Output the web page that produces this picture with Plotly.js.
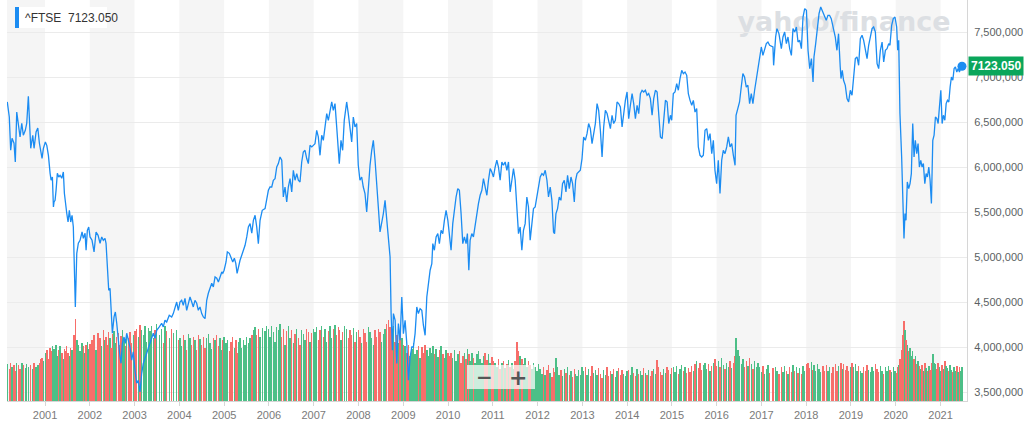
<!DOCTYPE html>
<html><head><meta charset="utf-8">
<script src="https://cdn.plot.ly/plotly-3.0.1.min.js"></script>
<style>html,body{margin:0;padding:0;background:#fff;}#chart{width:1024px;height:422px;}</style>
</head><body><div id="chart"></div>
<script>
const tickerName = '^FTSE';
// decimal years of each sample
const tradeYears = [
2000.158,2000.203,2000.234,2000.264,2000.308,2000.337,2000.369,2000.405,2000.443,2000.481,
2000.516,2000.560,2000.592,2000.628,2000.681,2000.726,2000.755,2000.800,2000.838,2000.874,
2000.904,2000.933,2000.963,2001.007,2001.039,2001.075,2001.113,2001.135,2001.164,2001.187,
2001.201,2001.224,2001.246,2001.275,2001.306,2001.336,2001.374,2001.409,2001.432,2001.463,
2001.485,2001.514,2001.543,2001.574,2001.603,2001.632,2001.648,2001.677,2001.709,2001.744,
2001.782,2001.827,2001.856,2001.894,2001.917,2001.945,2001.976,2002.005,2002.050,2002.095,
2002.140,2002.185,2002.229,2002.267,2002.302,2002.340,2002.363,2002.401,2002.423,2002.452,
2002.475,2002.504,2002.542,2002.571,2002.602,2002.637,2002.675,2002.698,2002.727,2002.765,
2002.794,2002.825,2002.861,2002.898,2002.936,2002.972,2003.010,2003.048,2003.084,2003.122,
2003.160,2003.196,2003.234,2003.272,2003.307,2003.345,2003.383,2003.419,2003.457,2003.495,
2003.553,2003.606,2003.642,2003.680,2003.718,2003.776,2003.830,2003.866,2003.942,2003.978,
2004.015,2004.053,2004.089,2004.127,2004.165,2004.201,2004.239,2004.277,2004.312,2004.350,
2004.388,2004.424,2004.462,2004.500,2004.536,2004.574,2004.611,2004.647,2004.685,2004.723,
2004.759,2004.797,2004.835,2004.871,2004.909,2004.947,2004.970,2004.999,2005.042,2005.071,
2005.116,2005.148,2005.192,2005.228,2005.260,2005.289,2005.317,2005.355,2005.393,2005.429,
2005.467,2005.505,2005.541,2005.579,2005.617,2005.653,2005.691,2005.728,2005.764,2005.802,
2005.851,2005.914,2005.952,2005.988,2006.025,2006.063,2006.099,2006.137,2006.175,2006.211,
2006.249,2006.287,2006.322,2006.360,2006.398,2006.434,2006.472,2006.510,2006.546,2006.584,
2006.622,2006.658,2006.695,2006.733,2006.769,2006.807,2006.845,2006.881,2006.919,2006.957,
2006.993,2007.030,2007.068,2007.104,2007.142,2007.180,2007.216,2007.254,2007.292,2007.328,
2007.366,2007.404,2007.439,2007.477,2007.515,2007.551,2007.573,2007.611,2007.648,2007.684,
2007.738,2007.774,2007.812,2007.850,2007.886,2007.924,2007.962,2007.997,2008.035,2008.073,
2008.109,2008.147,2008.185,2008.221,2008.259,2008.297,2008.333,2008.371,2008.409,2008.444,
2008.482,2008.520,2008.556,2008.594,2008.632,2008.668,2008.706,2008.729,2008.758,2008.780,
2008.819,2008.856,2008.891,2008.929,2008.967,2009.003,2009.041,2009.079,2009.115,2009.153,
2009.191,2009.226,2009.264,2009.302,2009.338,2009.376,2009.414,2009.450,2009.488,2009.526,
2009.562,2009.600,2009.638,2009.660,2009.695,2009.734,2009.772,2009.807,2009.845,2009.883,
2009.919,2009.957,2009.996,2010.030,2010.068,2010.106,2010.142,2010.180,2010.218,2010.254,
2010.292,2010.330,2010.366,2010.404,2010.433,2010.465,2010.494,2010.532,2010.568,2010.606,
2010.644,2010.680,2010.718,2010.756,2010.792,2010.830,2010.868,2010.904,2010.942,2010.979,
2011.015,2011.053,2011.091,2011.127,2011.165,2011.203,2011.239,2011.277,2011.315,2011.351,
2011.389,2011.427,2011.463,2011.501,2011.539,2011.575,2011.612,2011.650,2011.686,2011.724,
2011.762,2011.798,2011.836,2011.874,2011.910,2011.948,2011.986,2012.022,2012.060,2012.098,
2012.134,2012.172,2012.210,2012.245,2012.283,2012.321,2012.357,2012.380,2012.411,2012.447,
2012.484,2012.522,2012.558,2012.596,2012.634,2012.670,2012.708,2012.746,2012.782,2012.820,
2012.849,2012.881,2012.916,2012.954,2012.992,2013.028,2013.066,2013.104,2013.140,2013.178,
2013.216,2013.252,2013.290,2013.328,2013.364,2013.402,2013.440,2013.476,2013.514,2013.552,
2013.588,2013.626,2013.663,2013.699,2013.737,2013.775,2013.811,2013.849,2013.887,2013.923,
2013.961,2013.999,2014.035,2014.073,2014.111,2014.147,2014.185,2014.223,2014.259,2014.297,
2014.334,2014.370,2014.408,2014.446,2014.482,2014.520,2014.558,2014.594,2014.632,2014.670,
2014.706,2014.744,2014.782,2014.818,2014.856,2014.894,2014.930,2014.968,2014.996,2015.032,
2015.070,2015.108,2015.144,2015.182,2015.220,2015.256,2015.294,2015.332,2015.368,2015.406,
2015.444,2015.480,2015.517,2015.555,2015.591,2015.629,2015.667,2015.703,2015.741,2015.779,
2015.815,2015.853,2015.891,2015.927,2015.963,2016.001,2016.037,2016.075,2016.113,2016.149,
2016.187,2016.225,2016.261,2016.299,2016.337,2016.373,2016.411,2016.433,2016.473,2016.511,
2016.549,2016.585,2016.623,2016.661,2016.697,2016.735,2016.773,2016.809,2016.847,2016.885,
2016.921,2016.958,2016.996,2017.032,2017.070,2017.108,2017.144,2017.182,2017.256,2017.271,
2017.316,2017.345,2017.390,2017.444,2017.480,2017.518,2017.556,2017.592,2017.630,2017.668,
2017.704,2017.742,2017.780,2017.816,2017.854,2017.892,2017.928,2017.966,2018.004,2018.040,
2018.078,2018.116,2018.152,2018.173,2018.211,2018.250,2018.286,2018.324,2018.373,2018.409,
2018.447,2018.485,2018.521,2018.559,2018.597,2018.649,2018.686,2018.722,2018.760,2018.777,
2018.805,2018.834,2018.873,2018.911,2018.947,2018.985,2019.023,2019.059,2019.097,2019.135,
2019.171,2019.209,2019.247,2019.283,2019.321,2019.359,2019.395,2019.433,2019.471,2019.507,
2019.545,2019.583,2019.619,2019.657,2019.695,2019.731,2019.769,2019.807,2019.843,2019.871,
2019.909,2019.945,2019.983,2020.021,2020.044,2020.066,2020.094,2020.132,2020.155,2020.184,
2020.206,2020.229,2020.258,2020.289,2020.319,2020.348,2020.379,2020.408,2020.437,2020.468,
2020.498,2020.527,2020.558,2020.587,2020.616,2020.648,2020.677,2020.706,2020.737,2020.766,
2020.795,2020.826,2020.855,2020.885,2020.916,2020.945,2020.974,2021.005,2021.034,2021.063,
2021.095,2021.124,2021.153,2021.184,2021.213,2021.242,2021.273,2021.302,2021.331,2021.362,
2021.392,2021.421,2021.452,2021.478
];
const closes = [
6726,6559,6189,6322,6267,6059,6614,6489,6337,6489,
6356,6411,6489,6789,6211,6356,6211,6392,6437,6267,
6170,6100,6211,6281,6244,6133,5933,5856,5892,5559,
5614,5633,5744,5933,5892,5911,5878,5948,5711,5544,
5489,5392,5522,5392,5467,5337,4892,4448,5044,5156,
5189,5281,5211,5267,5078,5300,5337,5226,5189,5059,
5281,5244,5156,5226,5189,5211,5156,4892,4633,4656,
4411,4156,4337,4392,4267,4044,3892,3822,4044,4114,
4044,4156,4078,4003,3856,3948,3744,3600,3633,3503,
3711,3822,3878,3933,4003,4059,4114,4156,4100,4189,
4226,4267,4226,4300,4281,4356,4337,4374,4503,4411,
4503,4522,4467,4544,4411,4489,4559,4503,4448,4522,
4489,4411,4448,4374,4337,4319,4522,4600,4656,4711,
4670,4781,4767,4726,4781,4837,4822,4856,4948,5059,
5044,5003,4948,4989,4933,4822,4892,4967,5022,5078,
5133,5226,5337,5374,5267,5411,5467,5337,5152,5411,
5522,5541,5633,5744,5781,5781,5856,5874,6003,6041,
6114,6078,5670,5781,5614,5781,5874,5726,5967,5856,
5930,5856,5837,6059,6170,6189,6097,6041,6244,6226,
6244,6263,6411,6337,6133,6356,6300,6430,6597,6522,
6652,6726,6633,6708,6448,6226,6041,6300,6189,6522,
6726,6597,6448,6281,6559,6448,6486,6022,5856,5892,
5781,5708,5503,5763,6022,6189,6300,6078,5856,5559,
5281,5374,5486,5633,5411,5263,5003,4374,3967,4374,
4300,3819,4263,4078,4559,4152,4300,4041,3633,3892,
4003,4003,4152,4448,4374,4430,4411,4244,4133,4559,
4744,4856,4930,5152,5078,5226,5263,5152,5300,5263,
5411,5522,5411,5263,5078,5374,5559,5670,5763,5744,
5486,5152,5226,5152,5263,4856,5189,5263,5226,5374,
5486,5597,5689,5744,5874,5781,5689,5856,5986,5948,
5892,6003,6078,6003,5856,6059,6022,6059,5967,6059,
5726,5856,5986,5856,5486,5263,5337,5078,5300,5374,
5670,5559,5189,5411,5541,5559,5670,5744,5892,5930,
5911,5967,5856,5670,5781,5633,5281,5263,5486,5541,
5670,5633,5819,5856,5726,5911,5763,5892,5819,5614,
5856,5930,5948,5967,6097,6337,6300,6374,6486,6430,
6263,6356,6486,6708,6633,6411,6114,6448,6633,6597,
6522,6430,6578,6486,6522,6726,6708,6670,6448,6614,
6744,6837,6541,6689,6819,6708,6541,6689,6597,6819,
6856,6837,6856,6800,6819,6763,6578,6763,6856,6837,
6559,6337,6319,6503,6744,6726,6486,6578,6522,6819,
6837,6930,6856,6986,7078,7041,7059,7022,6819,6744,
6689,6744,6614,6652,6226,6133,6114,6133,6411,6430,
6300,6374,6152,6300,5967,5819,6078,5708,6078,6189,
6152,6226,6337,6226,6263,6133,6022,6578,6652,6726,
6892,7041,7003,6892,6911,6708,6819,6708,6856,6967,
7078,7226,7337,7244,7300,7374,7392,7356,7337,7133,
7448,7541,7486,7319,7448,7503,7374,7448,7319,7244,
7541,7503,7559,7392,7411,7319,7670,7763,7744,7300,
7097,7208,6948,7226,7374,7559,7708,7781,7726,7670,
7633,7689,7689,7652,7578,7448,7300,7485,7114,6986,
7078,6967,6911,6763,6726,6856,6800,7041,7208,7226,
7133,7430,7467,7411,7300,7208,7356,7467,7541,7559,
7503,7152,7097,7300,7392,7170,7300,7319,7374,7356,
7578,7652,7670,7559,7300,7411,6597,6114,5708,5208,
5486,5411,5837,5763,5819,5930,6486,6114,6300,6152,
6263,6003,6078,6003,6041,5819,5930,5892,6003,5856,
5597,6300,6356,6559,6541,6486,6670,6856,6486,6578,
6522,6708,6744,6726,6892,7003,6967,7097,7114,7059,
7097,7059,7114,7123.05
];
// volume, millions of shares
const volumes = [
460,400,480,420,455,380,470,445,400,475,450,410,465,430,455,395,470,430,450,480,520,540,500,
600,640,520,660,620,690,540,650,580,700,560,640,680,600,520,650,620,690,600,560,660,630,690,820,1020,760,700,620,720,680,600,700,740,650,710,
760,820,640,850,780,680,880,760,800,700,860,790,660,830,870,720,800,850,700,810,880,770,680,840,790,860,720,820,870,
900,800,950,880,820,930,740,910,870,940,780,890,960,820,900,720,930,870,780,900,850,880,760,
780,680,820,760,640,840,780,700,800,760,640,820,770,700,800,660,780,830,720,650,790,760,820,680,780,640,760,800,
720,760,620,740,800,660,760,600,730,790,660,760,700,800,720,780,820,880,920,820,900,800,910,870,930,
900,800,940,860,740,920,880,960,800,900,700,870,930,780,880,720,840,900,780,700,880,840,760,900,860,740,850,900,
860,920,760,880,940,800,900,740,870,930,780,900,950,820,920,880,760,860,940,900,780,880,820,910,740,860,
880,800,720,900,850,740,920,860,780,700,880,800,900,860,740,840,900,960,1010,920,880,820,940,740,820,720,860,780,700,
680,600,700,560,650,720,580,640,690,540,670,600,700,640,560,660,600,690,580,650,550,630,680,580,540,640,600,560,
600,540,640,500,580,620,480,560,600,520,650,580,500,600,540,470,580,620,520,480,560,600,510,580,480,550,500,
480,420,520,400,470,500,410,460,510,420,480,400,500,740,620,560,520,460,540,430,500,450,400,480,420,380,460,
400,340,430,320,390,450,350,300,410,360,540,420,330,390,310,400,350,420,320,380,300,400,340,310,390,330,420,
380,420,330,400,310,440,350,390,320,410,340,290,390,330,420,310,380,340,400,300,370,410,320,390,340,310,380,
390,330,420,350,310,400,340,380,320,410,350,330,390,310,370,400,340,510,420,360,330,400,350,430,390,340,410,
420,360,440,340,400,450,370,420,350,410,360,440,380,460,500,410,470,390,450,480,400,460,380,440,480,520,440,
500,420,530,450,400,480,430,500,410,470,560,780,640,560,460,520,420,500,440,540,460,400,500,430,470,
420,360,440,340,400,450,350,410,330,430,370,340,420,360,440,380,340,420,360,450,370,430,350,410,340,440,380,460,
470,410,490,390,450,380,460,400,360,440,380,450,370,430,350,420,460,380,440,360,480,400,460,390,440,370,430,470,
420,460,370,440,380,350,430,370,450,390,360,430,380,460,400,360,440,380,340,420,370,440,390,360,430,380,350,
420,450,520,640,820,1000,880,760,700,620,660,560,620,520,560,460,500,440,400,450,380,470,410,380,440,390,480,
580,480,460,400,480,420,380,450,400,500,440,410,380,450,390,360,430,380,440,360,420,380,430
];
const axisYears = [2001,2002,2003,2004,2005,2006,2007,2008,2009,2010,2011,2012,2013,2014,2015,2016,2017,2018,2019,2020,2021];
const shadedYears = [2000,2002,2004,2006,2008,2010,2012,2014,2016,2018,2020];
const priceTicks = [3500,4000,4500,5000,5500,6000,6500,7000,7500];
const priceTickLabels = ['3,500,000','4,000,000','4,500,000','5,000,000','5,500,000','6,000,000','6,500,000','7,000,000','7,500,000'];
const viewStartYear = 2000.152, viewEndYear = 2021.590;

function yearToMs(t){const y=Math.floor(t);const a=Date.UTC(y,0,1),b=Date.UTC(y+1,0,1);return a+(t-y)*(b-a);}

const W=1024,H=422,ML=7,MR=57,MT=0,MB=21;
const PW=W-ML-MR, PH=H-MT-MB;
const px=(x)=>(x-ML)/PW, py=(y)=>1-(y-MT)/PH;

const n = Math.min(tradeYears.length, closes.length, volumes.length);
const xs = tradeYears.slice(0,n).map(yearToMs);
const cl = closes.slice(0,n), vol = volumes.slice(0,n);
const UP='#4cbf87', DOWN='#f76e6a', LINE='#1b8cf2';
const volColors = cl.map((c,i)=> (i===0||c>=cl[i-1]) ? UP : DOWN);
const last = n-1;
const lastLabel = cl[last].toFixed(3);

const traces = [
  {type:'bar', x:xs, y:vol, yaxis:'y', marker:{color:volColors, line:{width:0}}, width:12*86400000, hoverinfo:'skip'},
  {type:'scatter', mode:'lines', x:xs, y:cl, yaxis:'y2', line:{color:LINE, width:1.3}, hoverinfo:'skip'},
  {type:'scatter', mode:'markers', x:[xs[last]], y:[cl[last]], yaxis:'y2', marker:{color:LINE, size:9}, cliponaxis:false, hoverinfo:'skip'}
];

const shapes = shadedYears.map(Y=>({type:'rect', xref:'x', yref:'paper', x0:yearToMs(Y), x1:yearToMs(Y+1), y0:0, y1:1, fillcolor:'#f5f5f5', line:{width:0}, layer:'below'}));
shapes.push({type:'rect', xref:'paper', yref:'paper', x0:px(740), x1:px(948), y0:py(36), y1:py(3), fillcolor:'rgba(0,0,0,0)', line:{width:0}, layer:'between',
  label:{text:'yahoo/finance', textposition:'middle center', font:{family:'DejaVu Sans, sans-serif', size:27, color:'#dcdfe3', weight:'bold'}}});
shapes.push({type:'rect', xref:'paper', yref:'paper', x0:px(15), x1:px(107), y0:py(28), y1:py(7), fillcolor:'#ffffff', line:{width:0}, layer:'above'});
shapes.push({type:'rect', xref:'paper', yref:'paper', x0:px(15), x1:px(19), y0:py(28), y1:py(7), fillcolor:LINE, line:{width:0}, layer:'above'});
shapes.push({type:'rect', xref:'paper', yref:'paper', x0:px(467), x1:px(535), y0:py(389), y1:py(365), fillcolor:'rgba(255,255,255,0.72)', line:{width:0}, layer:'above'});

const annotations = [
  {xref:'paper', yref:'paper', x:px(23), y:py(17.5), xanchor:'left', yanchor:'middle', showarrow:false, text:tickerName+'  '+lastLabel, font:{family:'Liberation Sans, Arial, sans-serif', size:12, color:'#333'}},
  {xref:'paper', yref:'y2', x:1, xanchor:'left', xshift:1, y:cl[last], yanchor:'middle', showarrow:false, text:'<b>'+lastLabel+'</b>', font:{family:'Liberation Sans, Arial, sans-serif', size:12, color:'#ffffff'}, bgcolor:'#0aa65b', borderpad:2},
  {xref:'paper', yref:'paper', x:px(484), y:py(377), xanchor:'center', yanchor:'middle', showarrow:false, text:'<b>\u2212</b>', font:{family:'DejaVu Sans, sans-serif', size:20, color:'#555'}},
  {xref:'paper', yref:'paper', x:px(518), y:py(377), xanchor:'center', yanchor:'middle', showarrow:false, text:'<b>+</b>', font:{family:'DejaVu Sans, sans-serif', size:22, color:'#555'}}
];

const layout = {
  width:W, height:H, margin:{l:ML, r:MR, t:MT, b:MB, pad:0},
  paper_bgcolor:'#ffffff', plot_bgcolor:'#ffffff', showlegend:false, bargap:0,
  font:{family:'Liberation Sans, Arial, sans-serif'},
  xaxis:{type:'date', range:[yearToMs(viewStartYear), yearToMs(viewEndYear)], tickvals:axisYears.map(yearToMs), ticktext:axisYears.map(String),
    ticks:'outside', ticklen:4, tickcolor:'#d6d6d6', showline:true, linecolor:'#d6d6d6', showgrid:false, zeroline:false,
    tickfont:{size:11, color:'#7a7a7a'}, fixedrange:true},
  yaxis:{range:[0,5000], visible:false, fixedrange:true, showgrid:false, zeroline:false},
  yaxis2:{overlaying:'y', side:'right', range:[3403,7859], tickvals:priceTicks, ticktext:priceTickLabels, showgrid:true, gridcolor:'#ebebeb',
    showline:true, linecolor:'#d6d6d6', zeroline:false, ticks:'', ticklabelstandoff:4, tickfont:{size:11, color:'#5b5f63'}, fixedrange:true},
  shapes:shapes, annotations:annotations
};
Plotly.newPlot('chart', traces, layout, {displayModeBar:false, staticPlot:true});
</script></body></html>
